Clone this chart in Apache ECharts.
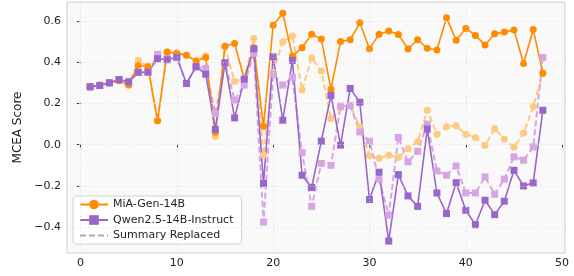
<!DOCTYPE html>
<html>
<head>
    <meta charset="utf-8">
    <script src="https://cdn.jsdelivr.net/npm/echarts@6/dist/echarts.min.js"></script>
    <title>MCEA Score</title>
</head>
<style>
    html, body {
        margin: 0;
        padding: 0;
        width: 100%;
        height: 100%;
        overflow: hidden;
        background: #fff;
    }
    #chart {
        width: 574px;
        height: 276px;
    }
</style>
<body>
<div id="chart"></div>
<script type="text/javascript">
    // x positions (sample index)
    var steps = [1, 2, 3, 4, 5, 6, 7, 8, 9, 10, 11, 12, 13, 14, 15, 16, 17, 18, 19, 20, 21, 22, 23, 24,
                 25, 26, 27, 28, 29, 30, 31, 32, 33, 34, 35, 36, 37, 38, 39, 40, 41, 42, 43, 44, 45, 46, 47, 48];

    var miaGen = [0.28, 0.29, 0.30, 0.31, 0.29, 0.385, 0.378, 0.116, 0.45, 0.443, 0.434, 0.405,
                  0.423, 0.06, 0.478, 0.491, 0.32, 0.47, 0.09, 0.579, 0.637, 0.43, 0.47, 0.536,
                  0.512, 0.269, 0.50, 0.509, 0.591, 0.465, 0.536, 0.551, 0.535, 0.464, 0.509, 0.468,
                  0.459, 0.616, 0.506, 0.564, 0.53, 0.483, 0.538, 0.546, 0.556, 0.394, 0.559, 0.346];

    var qwen = [0.281, 0.287, 0.30, 0.316, 0.305, 0.351, 0.352, 0.417, 0.412, 0.424, 0.297, 0.378,
                0.342, 0.074, 0.397, 0.13, 0.318, 0.465, -0.188, 0.426, 0.119, 0.409, -0.148, -0.207,
                0.017, 0.239, -0.002, 0.273, 0.206, -0.266, -0.133, -0.467, -0.145, -0.248, -0.299, 0.076,
                -0.234, -0.334, -0.184, -0.318, -0.388, -0.269, -0.339, -0.274, -0.124, -0.2, -0.185, 0.167];

    var miaGenReplaced = [0.28, 0.29, 0.30, 0.31, 0.29, 0.41, 0.38, 0.116, 0.45, 0.443, 0.434, 0.41,
                          0.43, 0.04, 0.475, 0.308, 0.32, 0.515, -0.05, 0.35, 0.499, 0.527, 0.265, 0.421,
                          0.357, 0.127, 0.179, 0.19, 0.087, -0.053, -0.066, -0.051, -0.062, -0.019, 0.014, 0.167,
                          0.051, 0.087, 0.092, 0.051, 0.035, -0.004, 0.077, 0.028, -0.012, 0.057, 0.184, 0.346];

    var qwenReplaced = [0.281, 0.287, 0.30, 0.316, 0.305, 0.351, 0.352, 0.438, 0.42, 0.424, 0.297, 0.378,
                        0.37, 0.151, 0.397, 0.216, 0.289, 0.443, -0.375, 0.342, 0.289, 0.326, -0.038, -0.299,
                        -0.091, -0.1, 0.187, 0.19, 0.062, 0.017, -0.167, -0.342, 0.035, -0.083, -0.032, 0.1,
                        -0.127, -0.148, -0.103, -0.234, -0.234, -0.156, -0.24, -0.167, -0.059, -0.075, -0.011, 0.423];

    var xTicks = [0, 10, 20, 30, 40, 50];
    var yTicks = [-0.4, -0.2, 0, 0.2, 0.4, 0.6];

    function pairs(ys) {
        return steps.map(function (x, i) { return [x, ys[i]]; });
    }

    var orange = '#ff8c00';
    var purple = '#9966cc';
    var lightOrange = '#ffc97e';
    var lightPurple = '#d6a5e2';
    var font = 'DejaVu Sans';

    var gridLines = [];
    xTicks.forEach(function (v) { gridLines.push({xAxis: v}); });
    yTicks.forEach(function (v) { gridLines.push({yAxis: v}); });

    var myChart = echarts.init(document.getElementById('chart'));
    var option = {
        animation: false,
        textStyle: {fontFamily: font},
        grid: {
            left: 67, right: 9, top: 2, bottom: 23,
            show: true,
            backgroundColor: '#f9f9f9',
            borderColor: '#c8d0d8',
            borderWidth: 1
        },
        legend: {
            orient: 'vertical',
            left: 73, top: 196,
            padding: [3, 8, 3, 6],
            itemWidth: 28, itemHeight: 12, itemGap: 4.5,
            backgroundColor: '#fff',
            borderColor: '#d0d0d0',
            borderWidth: 1,
            borderRadius: 3,
            textStyle: {fontFamily: font, fontSize: 11, color: '#222'},
            data: [
                'MiA-Gen-14B',
                'Qwen2.5-14B-Instruct',
                {name: 'Summary Replaced', itemStyle: {opacity: 0}}
            ]
        },
        xAxis: {
            type: 'value',
            min: -1.4, max: 50.3,
            splitLine: {show: false},
            axisLine: {show: false},
            axisTick: {show: true, customValues: xTicks, length: 3.5, lineStyle: {color: '#333'}},
            axisLabel: {customValues: xTicks, fontSize: 11, color: '#222', margin: 5}
        },
        yAxis: {
            type: 'value',
            min: -0.525, max: 0.692,
            name: 'MCEA Score',
            nameLocation: 'middle',
            nameGap: 43,
            nameTextStyle: {fontFamily: font, fontSize: 12, color: '#222'},
            splitLine: {show: false},
            axisLine: {show: false},
            axisTick: {show: true, customValues: yTicks, length: 3.5, lineStyle: {color: '#333'}},
            axisLabel: {
                customValues: yTicks, fontSize: 11, color: '#222', margin: 6,
                formatter: function (v) { return v.toFixed(1).replace('-', '\u2212'); }
            }
        },
        series: [
            {
                name: 'grid',
                type: 'line',
                data: [],
                silent: true,
                markLine: {
                    silent: true,
                    symbol: 'none',
                    label: {show: false},
                    lineStyle: {color: '#dcdcdc', type: [1, 2], width: 0.8},
                    data: gridLines
                }
            },
            {
                name: 'MiA-Gen-14B (replaced)',
                type: 'line',
                data: pairs(miaGenReplaced),
                symbol: 'circle', symbolSize: 7,
                lineStyle: {color: lightOrange, width: 2, type: [6, 3]},
                itemStyle: {color: lightOrange}
            },
            {
                name: 'Qwen2.5-14B-Instruct (replaced)',
                type: 'line',
                data: pairs(qwenReplaced),
                symbol: 'rect', symbolSize: 7,
                lineStyle: {color: lightPurple, width: 2, type: [6, 3]},
                itemStyle: {color: lightPurple}
            },
            {
                name: 'MiA-Gen-14B',
                type: 'line',
                data: pairs(miaGen),
                symbol: 'circle', symbolSize: 7,
                lineStyle: {color: orange, width: 1.6},
                itemStyle: {color: orange}
            },
            {
                name: 'Qwen2.5-14B-Instruct',
                type: 'line',
                data: pairs(qwen),
                symbol: 'rect', symbolSize: 7,
                lineStyle: {color: purple, width: 1.6},
                itemStyle: {color: purple}
            },
            {
                name: 'Summary Replaced',
                type: 'line',
                data: [],
                symbol: 'none',
                lineStyle: {color: '#aaaaaa', width: 2, type: [6, 3]},
                itemStyle: {color: '#aaaaaa'}
            }
        ]
    };
    myChart.setOption(option);
</script>
</body>
</html>
